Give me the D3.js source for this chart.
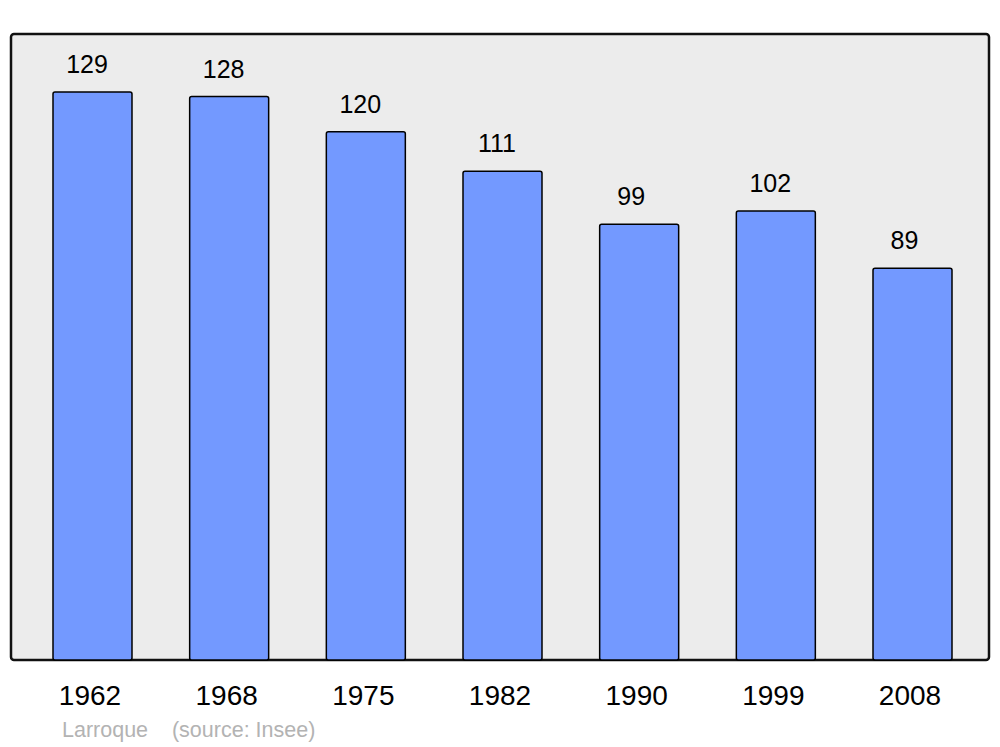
<!DOCTYPE html>
<html><head><meta charset="utf-8">
<script src="https://cdn.jsdelivr.net/npm/d3@7"></script>
<style>body{margin:0;background:#fff}svg{display:block}text{font-family:"Liberation Sans",Arial,sans-serif}</style>
</head><body>
<svg id="c" width="1000" height="747"></svg>
<script>
const years = ["1962","1968","1975","1982","1990","1999","2008"];
const population = [129,128,120,111,99,102,89];
const footer = "Larroque    (source: Insee)";

const svg = d3.select("#c");
const panel = {x0:11, x1:989, y0:34, y1:660};

const x = d3.scaleBand().domain(years).range([53, 952]).paddingInner(0.422).paddingOuter(0);
const y = d3.scaleLinear().domain([0, 142.2]).range([panel.y1, panel.y0]);

svg.append("rect")
  .attr("x", panel.x0).attr("y", panel.y0)
  .attr("width", panel.x1 - panel.x0).attr("height", panel.y1 - panel.y0)
  .attr("rx", 3).attr("fill", "#ececec").attr("stroke", "#111").attr("stroke-width", 2.5);

const data = years.map((yr, i) => ({yr, v: population[i]}));

svg.append("g").selectAll("rect").data(data).join("rect")
  .attr("x", d => x(d.yr)).attr("y", d => y(d.v))
  .attr("width", x.bandwidth()).attr("height", d => y(0) - y(d.v))
  .attr("rx", 2).attr("fill", "#7399ff").attr("stroke", "#000").attr("stroke-width", 1.5);

svg.append("g").selectAll("text").data(data).join("text")
  .attr("x", d => x(d.yr) + x.bandwidth()/2 - (String(d.v).length < 3 ? 8 : 5.5)).attr("y", d => y(d.v) - 19)
  .attr("text-anchor", "middle").attr("font-size", 25).attr("fill", "#000")
  .text(d => d.v);

const xAxis = d3.axisBottom(x).tickSize(0).tickPadding(0);
const ag = svg.append("g").attr("transform", `translate(0,${panel.y1})`).call(xAxis);
ag.select(".domain").remove();
ag.selectAll("text").attr("font-size", 28).attr("font-family", '"Liberation Sans",Arial,sans-serif')
  .attr("fill", "#000").attr("dy", null).attr("y", 45).attr("x", -2.5);

svg.append("text").attr("x", 62).attr("y", 737).attr("font-size", 21.5).attr("fill", "#b3b3b3")
  .attr("xml:space", "preserve").style("white-space", "pre").text(footer);
</script>
</body></html>
